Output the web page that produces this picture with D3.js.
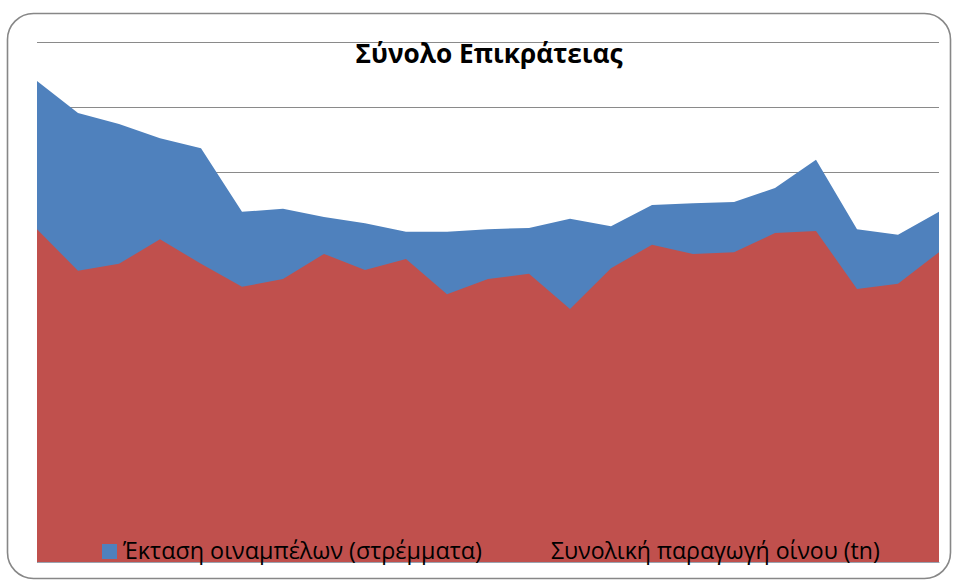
<!DOCTYPE html>
<html>
<head>
<meta charset="utf-8">
<script src="https://cdn.jsdelivr.net/npm/d3@7"></script>
<style>
  html, body { margin: 0; padding: 0; background: #fff; }
  svg { display: block; }
  text { font-family: "Open Sans", "Noto Sans", "DejaVu Sans", sans-serif; }
</style>
</head>
<body>
<svg id="chart" width="956" height="583"></svg>
<script>
// ---- Data ----
const title = "Σύνολο Επικράτειας";
const years = [1987,1988,1989,1990,1991,1992,1993,1994,1995,1996,1997,1998,1999,2000,2001,2002,2003,2004,2005,2006,2007,2008,2009];
const seriesNames = ["Έκταση οιναμπέλων (στρέμματα)", "Συνολική παραγωγή οίνου (tn)"];
const vineyardArea = [1110000,1036000,1011000,978000,955000,808000,815000,796000,782000,762000,762000,768000,771000,792000,775000,824000,828000,831000,863000,928000,768000,755000,808000];
const wineProduction = [768000,672000,688000,745000,688000,635000,653000,711000,674000,699000,618000,653000,665000,584000,678000,732000,711000,715000,759000,764000,630000,642000,715000];
const yMax = 1200000;
const yTicks = [0,150000,300000,450000,600000,750000,900000,1050000,1200000];
const colors = ["#4F81BD", "#C0504D"];

// ---- Layout ----
const svg = d3.select("#chart");
const plot = { left: 37, right: 939, top: 42, bottom: 562 };

// outer frame
svg.append("rect")
  .attr("x", 7.5).attr("y", 13.5)
  .attr("width", 943).attr("height", 565)
  .attr("rx", 26).attr("ry", 26)
  .attr("fill", "#fff")
  .attr("stroke", "#878787")
  .attr("stroke-width", 1.6);

const x = d3.scalePoint().domain(years).range([plot.left, plot.right]);
const y = d3.scaleLinear().domain([0, yMax]).range([plot.bottom, plot.top]);

// gridlines
svg.append("g")
  .attr("transform", `translate(${plot.left},0)`)
  .call(d3.axisLeft(y).tickValues(yTicks).tickSize(-(plot.right - plot.left)).tickFormat(""))
  .call(g => g.select(".domain").remove())
  .call(g => g.selectAll(".tick line").attr("stroke", "#8a8a8a").attr("stroke-width", 1.2));

// areas
const area = d3.area()
  .x((d, i) => x(years[i]))
  .y0(y(0))
  .y1(d => y(d));

[vineyardArea, wineProduction].forEach((s, k) => {
  svg.append("path")
    .datum(s)
    .attr("d", area)
    .attr("fill", colors[k]);
});

// x-axis baseline
svg.append("g")
  .attr("transform", `translate(0,${plot.bottom})`)
  .call(d3.axisBottom(x).tickSize(0).tickFormat(""))
  .call(g => g.select(".domain").attr("stroke", "#9aa3b0").attr("stroke-width", 1));

// title
function fitText(sel, targetWidth, startSize) {
  sel.style("font-size", startSize + "px");
  const w = sel.node().getComputedTextLength();
  sel.style("font-size", (startSize * targetWidth / w).toFixed(2) + "px");
}
const t = svg.append("text")
  .attr("x", 489).attr("y", 63)
  .attr("text-anchor", "middle")
  .style("font-weight", "bold")
  .attr("fill", "#000")
  .text(title);
fitText(t, 267, 24);

// legend
const legendItems = [
  { sx: 102, tx: 123, w: 359 },
  { sx: 530, tx: 551, w: 329 }
];
legendItems.forEach((L, k) => {
  svg.append("rect")
    .attr("x", L.sx).attr("y", 544)
    .attr("width", 15).attr("height", 15)
    .attr("fill", colors[k]);
  const lt = svg.append("text")
    .attr("x", L.tx).attr("y", 559)
    .attr("fill", "#000")
    .text(seriesNames[k]);
  fitText(lt, L.w, 20);
});
</script>
</body>
</html>
